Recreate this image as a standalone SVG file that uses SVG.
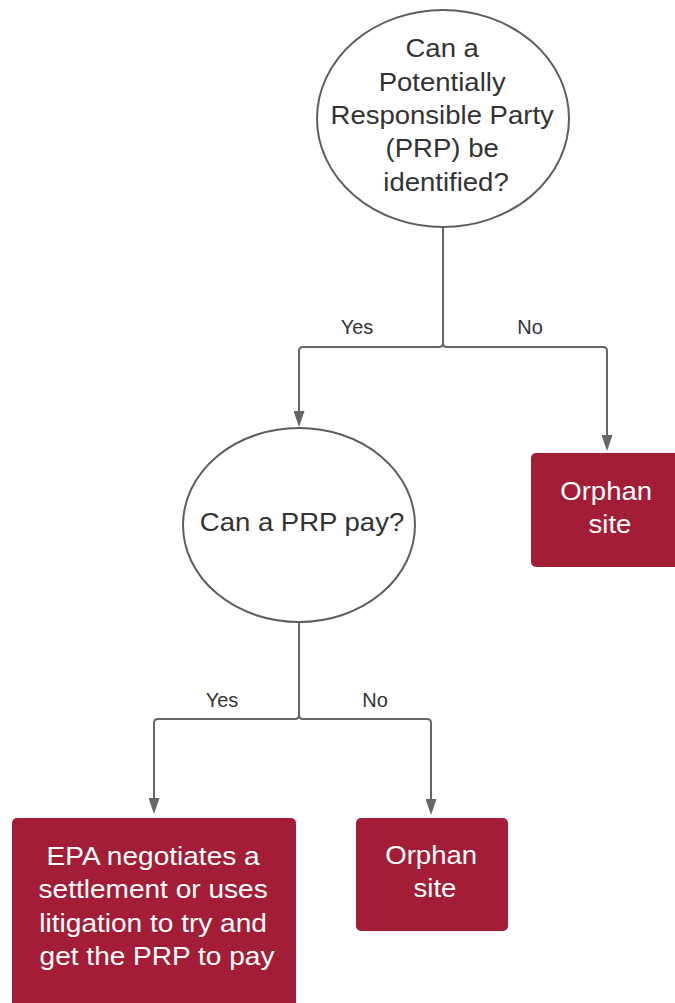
<svg xmlns="http://www.w3.org/2000/svg" width="675" height="1003" viewBox="0 0 675 1003">
  <style>
    .bg { fill: #ffffff; }
    .decision { fill: #ffffff; stroke: #5e5e5e; stroke-width: 2; }
    .term { fill: #a21d35; stroke: none; }
    .conn { fill: none; stroke: #666666; stroke-width: 2; }
    .ntext { font-family: "Liberation Sans", Arial, sans-serif; font-size: 25.5px; text-anchor: middle; }
    .dark { fill: #333333; }
    .light { fill: #ffffff; }
    .label { font-family: "Liberation Sans", Arial, sans-serif; font-size: 20px; text-anchor: middle; fill: #333333; }
  </style>
  <defs>
    <marker id="arrow" markerUnits="userSpaceOnUse" markerWidth="16" markerHeight="11" refX="2" refY="5.5" orient="auto">
      <path d="M0,0 L16,5.5 L0,11 z" fill="#666666"/>
    </marker>
  </defs>
  <rect class="bg" x="0" y="0" width="675" height="1003"/>

  <g id="connectors">
    <path class="conn" d="M443,227 V343"/>
    <path class="conn" d="M443,343 Q443,347 439,347 H303 Q299,347 299,351 V413" marker-end="url(#arrow)"/>
    <path class="conn" d="M443,343 Q443,347 447,347 H603 Q607,347 607,351 V437" marker-end="url(#arrow)"/>
    <path class="conn" d="M299,622 V715"/>
    <path class="conn" d="M299,715 Q299,719 295,719 H158 Q154,719 154,723 V800" marker-end="url(#arrow)"/>
    <path class="conn" d="M299,715 Q299,719 303,719 H427 Q431,719 431,723 V801" marker-end="url(#arrow)"/>
    <text class="label" x="357" y="334">Yes</text>
    <text class="label" x="530" y="334">No</text>
    <text class="label" x="222" y="707">Yes</text>
    <text class="label" x="375" y="707">No</text>
  </g>

  <g id="node-identify">
    <ellipse class="decision" cx="443" cy="118.5" rx="126" ry="108.5"/>
    <text class="ntext dark" transform="translate(446,0) scale(1.08,1)">
      <tspan x="0" y="57.5">Can a</tspan>
      <tspan x="0" y="90.8">Potentially</tspan>
      <tspan x="0" y="124.1">Responsible Party</tspan>
      <tspan x="0" y="157.4">(PRP) be</tspan>
      <tspan x="0" y="190.7">identified?</tspan>
    </text>
  </g>

  <g id="node-pay">
    <ellipse class="decision" cx="299" cy="525" rx="116" ry="97"/>
    <text class="ntext dark" transform="translate(302,0) scale(1.08,1)" x="0" y="531">Can a PRP pay?</text>
  </g>

  <g id="node-orphan1">
    <rect class="term" x="531" y="453" width="152" height="114" rx="5" ry="5"/>
    <text class="ntext light" transform="translate(610,0) scale(1.08,1)">
      <tspan x="0" y="500">Orphan</tspan>
      <tspan x="0" y="533">site</tspan>
    </text>
  </g>

  <g id="node-epa">
    <rect class="term" x="12" y="818" width="284" height="200" rx="5" ry="5"/>
    <text class="ntext light" transform="translate(157,0) scale(1.1,1)">
      <tspan x="0" y="865">EPA negotiates a</tspan>
      <tspan x="0" y="898.3">settlement or uses</tspan>
      <tspan x="0" y="931.6">litigation to try and</tspan>
      <tspan x="0" y="965">get the PRP to pay</tspan>
    </text>
  </g>

  <g id="node-orphan2">
    <rect class="term" x="356" y="818" width="152" height="113" rx="5" ry="5"/>
    <text class="ntext light" transform="translate(435,0) scale(1.08,1)">
      <tspan x="0" y="864">Orphan</tspan>
      <tspan x="0" y="897">site</tspan>
    </text>
  </g>
</svg>
